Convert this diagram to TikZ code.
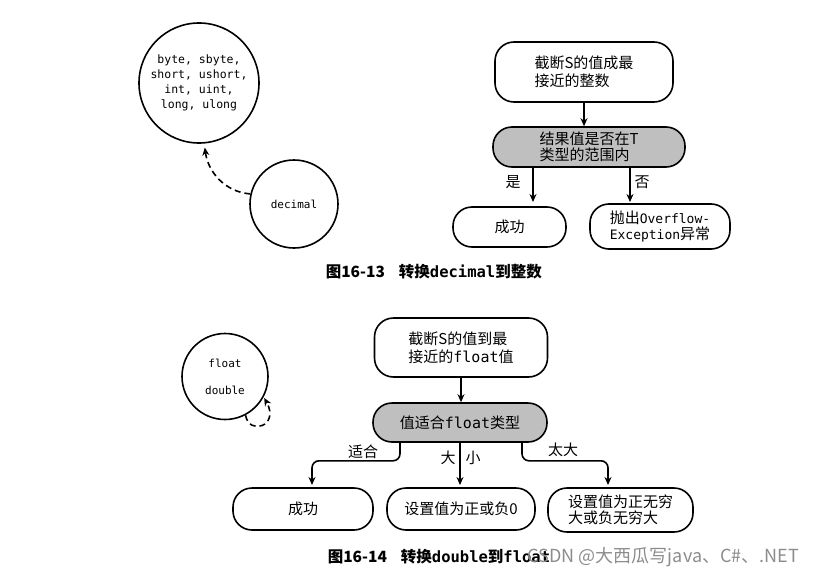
\documentclass[tikz,border=0pt]{standalone}
\usepackage{fontspec}
\setmainfont{Noto Sans CJK SC}
\setmonofont{DejaVu Sans Mono}
\usetikzlibrary{arrows.meta}
\begin{document}
\begin{tikzpicture}[x=1pt,y=-1pt,
  line width=1.6pt,
  rbox/.style={draw, rounded corners=19pt, inner sep=0pt, align=left,
    font=\fontsize{15}{18}\selectfont},
  gbox/.style={rbox, fill=black!25},
  circ/.style={draw, circle, inner sep=0pt, align=center},
  arr/.style={-{Stealth[length=8pt,width=7pt]}},
  darr/.style={arr, dash pattern=on 6pt off 4pt},
  lbl/.style={font=\fontsize{15}{15}\selectfont, inner sep=0pt},
  captext/.style={font=\fontsize{15.5}{16}\selectfont\bfseries, inner sep=0pt, anchor=west}
]
\useasboundingbox (0,0) rectangle (832,578);

% ---------- Figure 16-13 ----------
\node[circ, minimum size=120pt, font=\ttfamily\fontsize{11.5}{15}\selectfont] (big) at (199,83)
  {byte, sbyte,\\short, ushort,\\int, uint,\\long, ulong};
\node[circ, minimum size=88pt, font=\ttfamily\fontsize{11}{12}\selectfont] (dec) at (294,204) {decimal};
\draw[darr, shorten >=4pt] (dec.167) .. controls (225,192) and (208,172) .. (big.-85);

\node[rbox, minimum width=178pt, minimum height=60pt] (t1) at (584,72)
  {截断S的值成最\\接近的整数};
\node[gbox, minimum width=192pt, minimum height=40pt, font=\fontsize{15}{15.5}\selectfont] (g1) at (589,147)
  {结果值是否在T\\类型的范围内};
\node[rbox, minimum width=113pt, minimum height=40pt] (ok1) at (509.5,227) {成功};
\node[rbox, minimum width=140pt, minimum height=45pt, font=\fontsize{15}{16.5}\selectfont] (ex1) at (660,226.5)
  {抛出{\ttfamily\fontsize{13}{16.5}\selectfont Overflow-}\\{\ttfamily\fontsize{13}{16.5}\selectfont Exception}异常};

\draw[arr] (t1.south) -- (t1.south |- g1.north);
\coordinate (e1) at (533,202);
\coordinate (e2) at (630,202);
\draw[arr] (g1.south -| e1) -- (e1);
\draw[arr] (g1.south -| e2) -- (e2);
\node[lbl] (yes) at (513,182) {是};
\node[lbl] (no) at (642,182) {否};

\node[captext] (cap1) at (325,272) {图16-13\hspace{14pt}转换{\ttfamily decimal}到整数};

% ---------- Figure 16-14 ----------
\node[circ, minimum size=86pt, font=\ttfamily\fontsize{11}{27}\selectfont] (fd) at (225,376.5)
  {float\\double};
\draw[darr, shorten >=1pt] (fd.-62) .. controls (249,436) and (280,426) .. (fd.-28);

\node[rbox, minimum width=173pt, minimum height=59pt] (t2) at (461,347.5)
  {截断S的值到最\\接近的{\ttfamily float}值};
\node[gbox, minimum width=174pt, minimum height=39pt] (g2) at (460,422.5)
  {值适合{\ttfamily float}类型};
\node[rbox, minimum width=140pt, minimum height=42pt] (ok2) at (303,509) {成功};
\node[rbox, minimum width=148pt, minimum height=42pt] (zero) at (461,509) {设置值为正或负0};
\node[rbox, minimum width=145pt, minimum height=44pt, font=\fontsize{15}{16.5}\selectfont] (inf) at (620.5,510)
  {设置值为正无穷\\大或负无穷大};

\draw[arr] (t2.south) -- (t2.south |- g2.north);
\coordinate (e3) at (312,485);
\coordinate (e4) at (460,485);
\coordinate (e5) at (608,485);
\draw[arr, rounded corners=7pt] ([xshift=-60pt]g2.south) -- ++(0,18) -| (e3);
\draw[arr] (g2.south -| e4) -- (e4);
\draw[arr, rounded corners=7pt] ([xshift=62pt]g2.south) -- ++(0,18) -| (e5);
\node[lbl] (fit) at (363,452) {适合};
\node[lbl] (big2) at (448,458) {大};
\node[lbl] (small2) at (473,458) {小};
\node[lbl] (toobig) at (563,450) {太大};

\node[captext] (cap2) at (327,557) {图16-14\hspace{14pt}转换{\ttfamily double}到{\ttfamily float}};
\node[inner sep=0pt, anchor=west, text=black!45, font=\fontsize{18}{18}\selectfont] (wm) at (527,557)
  {CSDN @大西瓜写java、C\#、.NET};
\end{tikzpicture}
\end{document}
